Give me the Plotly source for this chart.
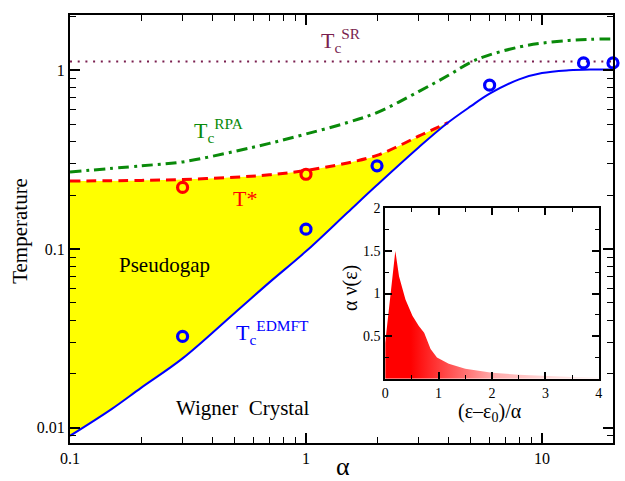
import plotly.graph_objects as go
import math

# ---------------- data ----------------
alpha_edmft = [0.1, 0.15, 0.2, 0.3, 0.5, 0.7, 1, 1.5, 2, 3, 4, 5, 6, 8, 10, 13, 16, 20]
T_edmft = [0.009, 0.0127, 0.0167, 0.0244, 0.044, 0.065, 0.097, 0.16, 0.228, 0.37, 0.51,
           0.63, 0.74, 0.89, 0.965, 1.0, 1.01, 1.01]

alpha_tstar = [0.1, 0.2, 0.3, 0.5, 0.7, 1, 1.5, 2, 2.5, 3, 3.5, 4]
T_tstar = [0.24, 0.242, 0.245, 0.252, 0.26, 0.275, 0.303, 0.334, 0.38, 0.428, 0.47, 0.51]

alpha_rpa = [0.1, 0.2, 0.3, 0.5, 0.7, 1, 1.5, 2, 3, 4, 5, 6, 8, 10, 13, 16, 20]
T_rpa = [0.27, 0.292, 0.307, 0.352, 0.39, 0.44, 0.51, 0.58, 0.76, 0.935, 1.11, 1.22,
         1.35, 1.42, 1.47, 1.49, 1.5]

alpha_sr = [0.1, 20]
T_sr = [1.12, 1.12]

alpha_tstar_pts = [0.3, 1]
T_tstar_pts = [0.221, 0.262]

alpha_edmft_pts = [0.3, 1, 2, 6, 15, 20]
T_edmft_pts = [0.0324, 0.129, 0.292, 0.826, 1.10, 1.10]

# inset: density of states
eps = [0, 0.05, 0.1, 0.15, 0.19, 0.26, 0.32, 0.38, 0.51, 0.63, 0.73, 0.79, 0.85,
       0.97, 1.19, 1.5, 2.0, 2.5, 3.0, 3.5, 4.0]
dos = [0.42, 0.72, 1.0, 1.28, 1.5, 1.2, 1.06, 0.93, 0.74, 0.62, 0.54, 0.45, 0.35,
       0.25, 0.175, 0.117, 0.07, 0.047, 0.031, 0.02, 0.012]

main_xticks = [0.1, 1, 10]
main_xticktext = ["0.1", "1", "10"]
main_yticks = [0.01, 0.1, 1]
main_yticktext = ["0.01", "0.1", "1"]
main_xminor = [0.2, 0.3, 0.4, 0.5, 0.6, 0.7, 0.8, 0.9, 2, 3, 4, 5, 6, 7, 8, 9]
main_yminor = [0.009, 0.02, 0.03, 0.04, 0.05, 0.06, 0.07, 0.08, 0.09,
               0.2, 0.3, 0.4, 0.5, 0.6, 0.7, 0.8, 0.9, 2]
inset_xticks = [0, 1, 2, 3, 4]
inset_yticks = [0.5, 1, 1.5, 2]

# ---------------- styling ----------------
FONT = "Liberation Serif"
W, H = 625, 481
L, R, T, B = 70, 8, 12, 38
PW, PH = W - L - R, H - T - B

def px(x):
    return (x - L) / PW

def py(y):
    return (H - B - y) / PH

RED = "#ff0000"
BLUE = "#0000ff"
GREEN = "#0a8a0a"
PURPLE = "#7a1f4f"
YELLOW = "#ffff00"

n_fill = sum(1 for a in alpha_edmft if a <= alpha_tstar[-1])

fig = go.Figure()

fig.add_trace(go.Scatter(x=alpha_edmft[:n_fill], y=T_edmft[:n_fill], mode="lines",
                         line=dict(width=0, shape="spline", color=BLUE),
                         hoverinfo="skip"))
fig.add_trace(go.Scatter(x=alpha_tstar, y=T_tstar, mode="lines", fill="tonexty",
                         fillcolor=YELLOW,
                         line=dict(color=RED, width=3, dash="10px,6px", shape="spline")))
fig.add_trace(go.Scatter(x=alpha_sr, y=T_sr, mode="lines",
                         line=dict(color=PURPLE, width=2.2, dash="2px,5.7px")))
fig.add_trace(go.Scatter(x=alpha_rpa, y=T_rpa, mode="lines",
                         line=dict(color=GREEN, width=3, dash="11px,5px,3px,5px",
                                   shape="spline")))
fig.add_trace(go.Scatter(x=alpha_edmft, y=T_edmft, mode="lines",
                         line=dict(color=BLUE, width=2, shape="spline")))
fig.add_trace(go.Scatter(x=alpha_tstar_pts, y=T_tstar_pts, mode="markers", cliponaxis=False,
                         marker=dict(symbol="circle-open", size=10, color=RED,
                                     line=dict(color=RED, width=3.2))))
fig.add_trace(go.Scatter(x=alpha_edmft_pts, y=T_edmft_pts, mode="markers", cliponaxis=False,
                         marker=dict(symbol="circle-open", size=10, color=BLUE,
                                     line=dict(color=BLUE, width=3.2))))

fig.add_trace(go.Scatter(x=eps, y=dos, xaxis="x2", yaxis="y2", mode="lines",
                         fill="tozeroy",
                         fillgradient=dict(type="horizontal",
                                           colorscale=[[0, "#ff0000"], [0.12, "#ff0000"],
                                                       [0.25, "#ff3a3a"], [0.5, "#ffa8a8"],
                                                       [0.75, "#ffd8d8"], [1, "#fff2f2"]]),
                         line=dict(width=0, color="#ff0000")))

axis_common = dict(showgrid=False, zeroline=False, showline=True, linecolor="black",
                   linewidth=2, mirror="allticks", ticks="inside", tickcolor="black",
                   tickwidth=1.5)

fig.update_layout(
    width=W, height=H,
    margin=dict(l=L, r=R, t=T, b=B),
    paper_bgcolor="white", plot_bgcolor="white",
    showlegend=False,
    font=dict(family=FONT, color="black"),
    xaxis=dict(type="log", range=[-1, math.log10(20)], tickvals=main_xticks,
               ticktext=main_xticktext, ticklen=10, tickfont=dict(size=16, family=FONT),
               minor=dict(tickvals=main_xminor, ticks="inside", ticklen=6,
                          tickcolor="black", tickwidth=1.2, showgrid=False),
               **axis_common),
    yaxis=dict(type="log", range=[math.log10(0.0082), math.log10(2.04)], tickvals=main_yticks,
               ticktext=main_yticktext, ticklen=10, tickfont=dict(size=16, family=FONT),
               minor=dict(tickvals=main_yminor, ticks="inside", ticklen=6,
                          tickcolor="black", tickwidth=1.2, showgrid=False),
               **axis_common),
    xaxis2=dict(domain=[px(387.5), px(602.7)], anchor="y2", range=[0, 4],
                tickvals=inset_xticks, ticklen=7, tickfont=dict(size=14, family=FONT),
                minor=dict(dtick=0.5, ticks="inside", ticklen=4, tickcolor="black",
                           tickwidth=1.2, showgrid=False),
                **axis_common),
    yaxis2=dict(domain=[py(378.3), py(206.7)], anchor="x2", range=[0, 2],
                tickvals=inset_yticks, ticklen=7, tickfont=dict(size=14, family=FONT),
                minor=dict(dtick=0.25, ticks="inside", ticklen=4, tickcolor="black",
                           tickwidth=1.2, showgrid=False),
                **axis_common),
)

def ann(text, x, y, size, color="black", xanchor="center", yanchor="middle", angle=0):
    fig.add_annotation(text=text, x=px(x), y=py(y), xref="paper", yref="paper",
                       showarrow=False, xanchor=xanchor, yanchor=yanchor, textangle=angle,
                       font=dict(family=FONT, size=size, color=color))

ann("T<sub>c</sub><sup>SR</sup>", 321, 38, 22, PURPLE, xanchor="left")
ann("T<sub>c</sub><sup>RPA</sup>", 193, 128, 22, GREEN, xanchor="left")
ann("T*", 232, 197, 22, RED, xanchor="left")
ann("T<sub>c</sub><sup>EDMFT</sup>", 235, 332, 22, BLUE, xanchor="left")
ann("Pseudogap", 165, 264, 21)
ann("Wigner  Crystal", 244, 408, 21)
ann("Temperature", 20, 229, 21, angle=-90)
ann("α", 345, 467, 26)
ann("α ν(ε)", 352, 287, 20, angle=-90)
ann("(ε–ε<sub>0</sub>)/α", 493, 412, 20)

fig.write_html("out.html", config={"displayModeBar": False},
               post_script="document.body.style.margin='0';document.body.style.padding='0';")
